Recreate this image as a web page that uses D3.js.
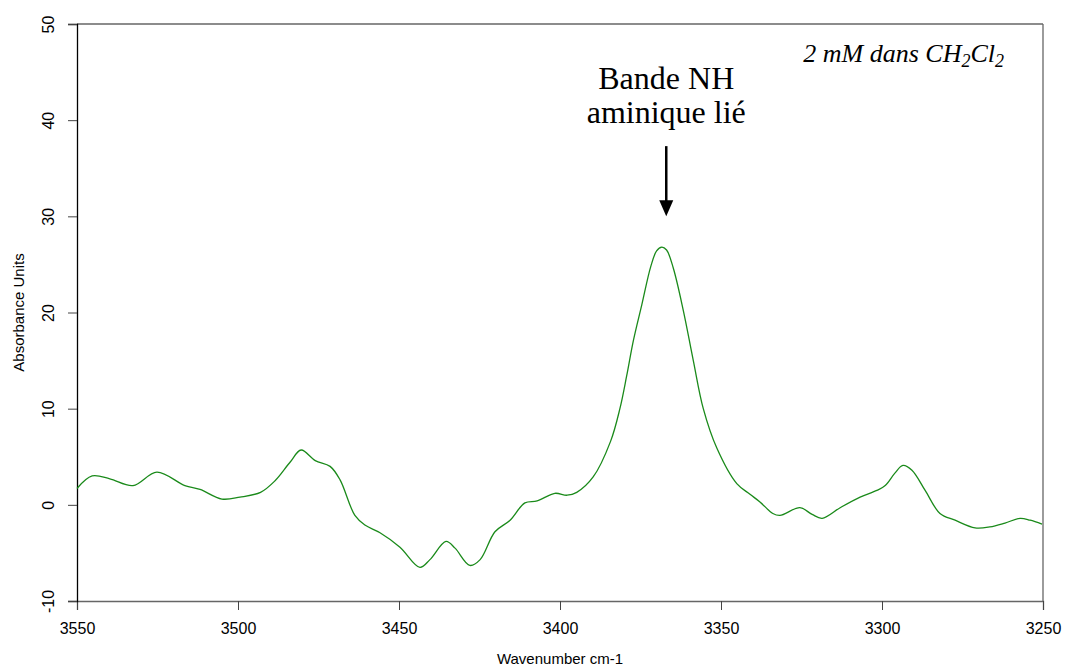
<!DOCTYPE html>
<html><head><meta charset="utf-8">
<script src="https://cdn.jsdelivr.net/npm/d3@7"></script>
<style>body{margin:0;background:#fff}svg{display:block}</style>
</head><body>
<svg id="c" width="1065" height="668"></svg>
<script>
const wavenumbers = [3550,3545.3,3539.8,3532.6,3525.2,3516.5,3511.8,3505,3499.4,3493,3488.5,3483.9,3480.4,3476,3471.4,3468.3,3463.7,3460.6,3455.9,3449.7,3443.5,3440.4,3435.4,3432.6,3428,3424.8,3420.2,3415.5,3410.9,3407.1,3401.6,3397.8,3394.8,3389.7,3384.3,3381.4,3379.3,3377.2,3374.6,3371.8,3370,3368.4,3366.9,3364.8,3361.7,3358.6,3355.5,3351.3,3345.1,3341,3337.9,3333.9,3331.7,3325.5,3321.7,3318.6,3313,3306.8,3301.6,3299,3296,3293.5,3290.7,3286.6,3282,3277.3,3271.1,3266.5,3261.8,3257.1,3254,3250.3];
const absorbance = [1.7,3.0,2.7,2.0,3.4,2.0,1.6,0.6,0.8,1.3,2.5,4.4,5.7,4.6,4.0,2.6,-1.1,-2.1,-2.9,-4.4,-6.5,-5.7,-3.8,-4.5,-6.3,-5.7,-2.8,-1.6,0.2,0.4,1.2,1.0,1.3,2.9,6.6,10.0,13.4,17.1,20.8,24.8,26.4,26.8,26.5,24.6,20.2,15.0,10.0,5.9,2.2,1.1,0.3,-0.9,-1.1,-0.3,-1.0,-1.4,-0.3,0.8,1.5,2.0,3.3,4.1,3.6,1.5,-0.9,-1.6,-2.4,-2.3,-1.9,-1.4,-1.6,-2.0];
const xTicks = [3550,3500,3450,3400,3350,3300,3250];
const yTicks = [-10,0,10,20,30,40,50];
const xTitle = "Wavenumber cm-1";
const yTitle = "Absorbance Units";
const peakLabel = ["Bande NH","aminique lié"];
const arrowAt = {x:3367, yFrom:37.3, yTo:30.0};

const svg = d3.select("#c");
const L=77,R=1043,T=24,B=601;
const x = d3.scaleLinear().domain([3550,3250]).range([L,R]);
const y = d3.scaleLinear().domain([-10,50]).range([B,T]);

// frame
svg.append("line").attr("x1",L).attr("x2",R).attr("y1",T).attr("y2",T).attr("stroke","#666").attr("stroke-width",1.3);
svg.append("line").attr("x1",R).attr("x2",R).attr("y1",T).attr("y2",B).attr("stroke","#666").attr("stroke-width",1.3);

const xa = svg.append("g").attr("transform",`translate(0,${B})`)
  .call(d3.axisBottom(x).tickValues(xTicks).tickSize(9).tickPadding(13).tickFormat(d3.format("d")));
xa.select(".domain").attr("stroke","#666").attr("stroke-width",1.3);
xa.selectAll(".tick line").attr("stroke","#444");
xa.selectAll("text").attr("font-family","Liberation Sans, Arial, sans-serif").attr("font-size",16).attr("fill","#000");

const ya = svg.append("g").attr("transform",`translate(${L},0)`)
  .call(d3.axisLeft(y).tickValues(yTicks).tickSize(9).tickFormat(d=>d<0?"-"+Math.abs(d):d));
ya.select(".domain").attr("stroke","#000").attr("stroke-width",1.3);
ya.selectAll(".tick line").attr("stroke","#444");
ya.selectAll(".tick text").attr("font-family","Liberation Sans, Arial, sans-serif").attr("font-size",16).attr("fill","#000")
  .attr("x",0).attr("dy",0).attr("text-anchor","middle")
  .attr("transform","translate(-29,0) rotate(-90)").attr("dominant-baseline","central");

svg.append("text").attr("x",(L+R)/2).attr("y",664).attr("text-anchor","middle")
  .attr("font-family","Liberation Sans, Arial, sans-serif").attr("font-size",15).text(xTitle);
svg.append("text").attr("transform",`translate(24,${(T+B)/2}) rotate(-90)`).attr("text-anchor","middle")
  .attr("font-family","Liberation Sans, Arial, sans-serif").attr("font-size",15).text(yTitle);

// curve
const line = d3.line().x((d,i)=>x(wavenumbers[i])).y(d=>y(d)).curve(d3.curveCatmullRom.alpha(0.5));
svg.append("path").datum(absorbance).attr("d",line).attr("fill","none").attr("stroke","#1a8a1a").attr("stroke-width",1.3);

// annotation
const ax = x(arrowAt.x);
svg.append("line").attr("x1",ax).attr("x2",ax).attr("y1",y(arrowAt.yFrom)).attr("y2",y(arrowAt.yTo)-14)
  .attr("stroke","#000").attr("stroke-width",2.5);
const tip = y(arrowAt.yTo);
svg.append("path").attr("d",`M${ax-7},${tip-16}L${ax+7},${tip-16}L${ax},${tip}Z`).attr("fill","#000");
peakLabel.forEach((t,i)=>{
  svg.append("text").attr("x",ax).attr("y",89+i*34).attr("text-anchor","middle")
    .attr("font-family","Liberation Serif, Times New Roman, serif").attr("font-size",32).text(t);
});

const ct = svg.append("text").attr("x",1004).attr("y",62).attr("text-anchor","end")
  .attr("font-family","Liberation Serif, Times New Roman, serif").attr("font-style","italic").attr("font-size",26);
ct.append("tspan").text("2 mM dans CH");
ct.append("tspan").attr("font-size",18).attr("dy",5).text("2");
ct.append("tspan").attr("dy",-5).text("Cl");
ct.append("tspan").attr("font-size",18).attr("dy",5).text("2");
</script>
</body></html>
